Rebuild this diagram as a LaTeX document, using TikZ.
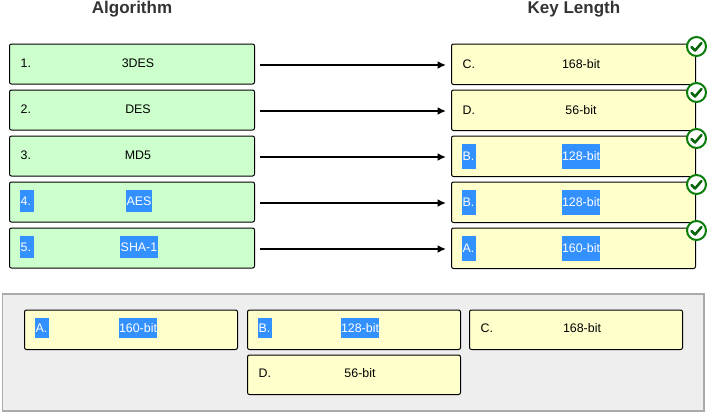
\documentclass[tikz,border=0pt]{standalone}
\usepackage{fontspec}
\setmainfont{Liberation Sans}
\usetikzlibrary{arrows.meta}
\definecolor{leftfill}{HTML}{CCFFCC}
\definecolor{rightfill}{HTML}{FFFFCC}
\definecolor{trayfill}{HTML}{EEEEEE}
\definecolor{trayline}{HTML}{AAAAAA}
\definecolor{hl}{HTML}{3390FF}
\definecolor{okgreen}{HTML}{0A7D0A}
\definecolor{headc}{HTML}{333333}
\tikzset{
  x=1pt,y=-1pt,
  heading/.style={font=\fontsize{17}{20}\selectfont\bfseries,text=headc,inner sep=0pt},
  box/.style={draw=black,line width=1pt,rounded corners=2pt,minimum height=40pt,inner sep=0pt},
  leftbox/.style={box,fill=leftfill,minimum width=245pt},
  rightbox/.style={box,fill=rightfill,minimum width=244pt,minimum height=40.5pt},
  traybox/.style={box,fill=rightfill,minimum width=213pt,minimum height=39.5pt},
  txt/.style={font=\fontsize{12.4}{14}\selectfont,text=black,inner sep=0pt,text height=8.9pt,text depth=0pt},
  lab/.style={txt,anchor=west},
  sel/.style={text=white,fill=hl,inner xsep=0.5pt,inner ysep=#1},
  sellab/.style={sel=#1,text width=13pt,align=left},
  okmark/.style={circle,draw=okgreen,line width=2pt,fill=white,minimum size=19pt,inner sep=0pt},
  conn/.style={draw=black,line width=1.8pt,-{Latex[length=8.5pt,width=8pt]},shorten >=5pt,shorten <=5pt},
  tick/.style={draw=okgreen!80!black,line width=2.5pt,line cap=round,line join=round},
}
\newcommand{\checkin}[1]{\draw[tick] ([shift={(-5,0.5)}]#1.center) -- ([shift={(-1.5,4)}]#1.center) -- ([shift={(5,-3.5)}]#1.center);}
\begin{document}
\begin{tikzpicture}
\useasboundingbox (0,0) rectangle (707,418);
\node[heading] (hleft) at (132,9.5) {Algorithm};
\node[heading] (hright) at (574,9.5) {Key Length};

% left column
\node[leftbox] (a1) at (132,64) {};
\node[leftbox] (a2) at (132,110) {};
\node[leftbox] (a3) at (132,156) {};
\node[leftbox] (a4) at (132,202) {};
\node[leftbox] (a5) at (132,248) {};
\node[lab] (a1n) at (20.5,63) {1.};
\node[txt] (a1t) at (138,63) {3DES};
\node[lab] (a2n) at (20.5,109) {2.};
\node[txt] (a2t) at (138,109) {DES};
\node[lab] (a3n) at (20.5,155) {3.};
\node[txt] (a3t) at (138,155) {MD5};
\node[lab,sellab=6.6pt] (a4n) at (20,201) {4.};
\node[txt,sel=6.6pt] (a4t) at (139,201) {AES};
\node[lab,sellab=6.6pt] (a5n) at (20,247) {5.};
\node[txt,sel=6.6pt] (a5t) at (139,247) {SHA-1};

% right column
\node[rightbox] (b1) at (573.5,64.25) {};
\node[rightbox] (b2) at (573.5,110.25) {};
\node[rightbox] (b3) at (573.5,156.25) {};
\node[rightbox] (b4) at (573.5,202.25) {};
\node[rightbox] (b5) at (573.5,248.25) {};
\node[lab] (b1n) at (462.5,64) {C.};
\node[txt] (b1t) at (581,64) {168-bit};
\node[lab] (b2n) at (462.5,110) {D.};
\node[txt] (b2t) at (581,110) {56-bit};
\node[lab,sellab=8pt] (b3n) at (462,156.5) {B.};
\node[txt,sel=8pt] (b3t) at (581,156.5) {128-bit};
\node[lab,sellab=8pt] (b4n) at (462,202.5) {B.};
\node[txt,sel=8pt] (b4t) at (581,202.5) {128-bit};
\node[lab,sellab=8pt] (b5n) at (462,248.5) {A.};
\node[txt,sel=8pt] (b5t) at (581,248.5) {160-bit};

% connectors
\foreach \i in {1,...,5}{
  \draw[conn] ([yshift=-1pt]a\i.east) -- ([yshift=-0.75pt]b\i.west);
}

% check marks
\foreach \i/\yy in {1/46.5,2/92.5,3/138.5,4/184.5,5/230.5}{
  \node[okmark] (ok\i) at (696.5,\yy) {};
  \checkin{ok\i}
}

% answer tray
\node[draw=trayline,line width=1.3pt,fill=trayfill,minimum width=701.5pt,minimum height=117pt,inner sep=0pt] (tray) at (353.25,352.5) {};
\node[traybox] (t1) at (131,329.75) {};
\node[traybox] (t2) at (354,329.75) {};
\node[traybox] (t3) at (576,329.75) {};
\node[traybox] (t4) at (354,374.75) {};
\node[lab,sellab=5.5pt] (t1n) at (35,328) {A.};
\node[txt,sel=5.5pt] (t1t) at (138,328) {160-bit};
\node[lab,sellab=5.5pt] (t2n) at (258,328) {B.};
\node[txt,sel=5.5pt] (t2t) at (360,328) {128-bit};
\node[lab] (t3n) at (480.5,328) {C.};
\node[txt] (t3t) at (582,328) {168-bit};
\node[lab] (t4n) at (258.5,373) {D.};
\node[txt] (t4t) at (360,373) {56-bit};
\end{tikzpicture}
\end{document}
